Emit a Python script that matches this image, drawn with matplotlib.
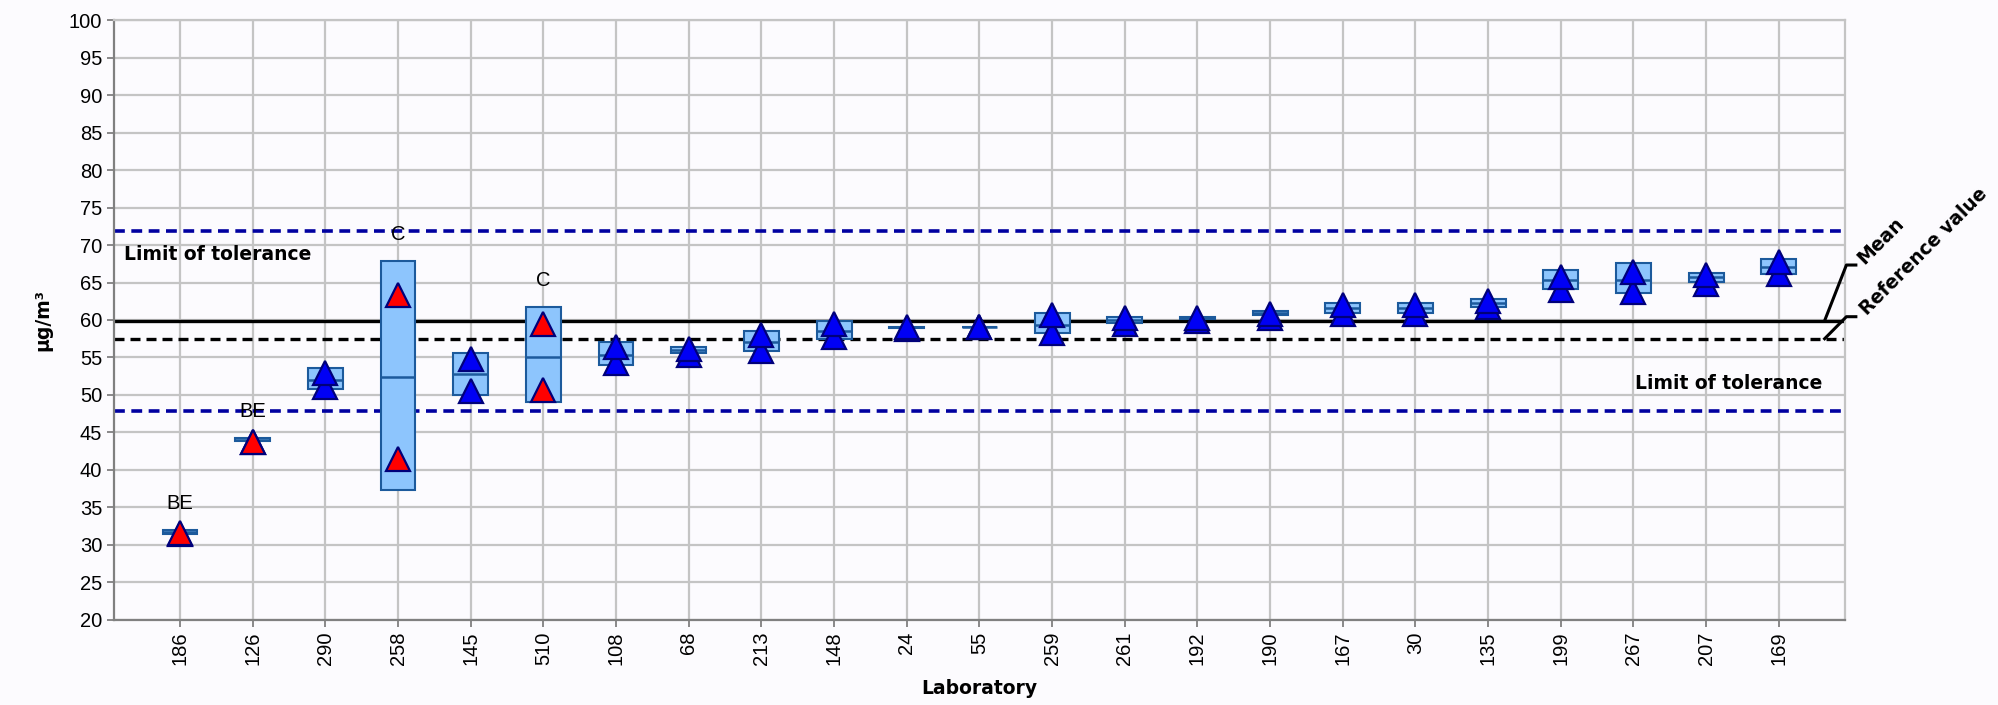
import numpy as np
import matplotlib.pyplot as plt

# laboratory codes, sorted by mean result
labs = ['186', '126', '290', '258', '145', '510', '108', '68', '213', '148', '24', '55',
        '259', '261', '192', '190', '167', '30', '135', '199', '267', '207', '169']
# two single results per lab (upper / lower)
result_hi = [31.6, 43.7, 52.9, 63.3, 54.8, 59.5, 56.4, 56.1, 57.95, 59.5, 59.05, 59.1,
             60.6, 60.3, 60.3, 60.85, 61.95, 61.95, 62.5, 65.7, 66.4, 65.95, 67.8]
result_lo = [31.5, 43.7, 51.0, 41.5, 50.5, 50.6, 54.25, 55.3, 55.85, 57.7, 58.8, 59.0,
             58.2, 59.5, 59.8, 60.3, 60.8, 60.85, 61.7, 64.0, 63.75, 64.8, 66.15]
# uncertainty boxes and lab mean
box_low = [31.4, 43.8, 50.8, 37.3, 50.0, 49.0, 53.95, 55.55, 55.85, 57.4, 58.98, 59.03,
           58.2, 59.55, 60.1, 60.65, 60.9, 60.9, 61.8, 64.2, 63.55, 65.1, 66.2]
box_high = [32.0, 44.25, 53.55, 67.85, 55.65, 61.8, 57.0, 56.45, 58.55, 59.85, 59.06, 59.11,
            61.0, 60.45, 60.35, 61.2, 62.3, 62.3, 62.8, 66.7, 67.65, 66.3, 68.1]
lab_mean = [31.7, 44.0, 51.95, 52.4, 52.75, 55.1, 55.3, 56.0, 57.0, 58.55, 59.02, 59.07,
            59.3, 60.0, 60.2, 60.9, 61.55, 61.55, 62.25, 65.4, 65.35, 65.7, 67.1]
flags = {'186': 'BE', '126': 'BE', '258': 'C', '510': 'C'}

mean_value = 59.9
reference_value = 57.5
tol_upper = 71.9
tol_lower = 47.9

bg = '#fcfbfe'
bold = dict(fontsize=13.5, fontweight='bold', family='DejaVu Sans')

fig = plt.figure(figsize=(19.98, 7.05), dpi=100, facecolor=bg)
ax = fig.add_axes([0.057, 0.1206, 0.8664, 0.851], facecolor=bg)

x = np.arange(len(labs))
ax.set_xlim(-0.91, len(labs) - 1 + 0.91)
ax.set_ylim(20, 100)
ax.set_yticks(np.arange(20, 101, 5))
ax.set_xticks(x)
ax.set_xticklabels(labs, rotation=90)
ax.grid(True, color='#c4c4c4', lw=1.6, zorder=0)
ax.set_axisbelow(True)

# limits, mean and reference
dash = (0, (3, 1.8))
ax.axhline(tol_upper, color='#0000a0', lw=2.6, ls=dash, zorder=2)
ax.axhline(tol_lower, color='#0000a0', lw=2.6, ls=dash, zorder=2)
ax.axhline(mean_value, color='black', lw=2.4, zorder=2)
ax.axhline(reference_value, color='black', lw=2.4, ls=dash, zorder=2)

# boxes
low = np.array(box_low)
high = np.array(box_high)
ax.bar(x, high - low, bottom=low, width=0.48, color='#8dc5fd',
       edgecolor='#1c5a9c', linewidth=1.5, zorder=3)
ax.hlines(lab_mean, x - 0.24, x + 0.24, color='#1c5a9c', lw=1.8, zorder=4)

# single results
for i, lab in enumerate(labs):
    fc = 'red' if lab in flags else '#0000f5'
    for v in (result_lo[i], result_hi[i]):
        ax.plot(i, v, marker='^', ms=17, mfc=fc, mec='#00007a', mew=1.6,
                ls='none', zorder=5)
    if lab in flags:
        ax.annotate(flags[lab], (i, box_high[i]), xytext=(0, 15), textcoords='offset points',
                    ha='center', va='baseline', fontsize=14.5, family='Liberation Sans', zorder=6)

ax.text(-0.77, 68.8, 'Limit of tolerance', va='center', ha='left', **bold)
ax.text(22.6, 51.5, 'Limit of tolerance', va='center', ha='right', **bold)

# leader lines for mean / reference value
ax.plot([22.63, 22.93, 23.06], [mean_value, 67.33, 67.33], color='black', lw=2.2,
        clip_on=False, zorder=6)
ax.plot([22.63, 22.93, 23.06], [reference_value, 60.44, 60.44], color='black', lw=2.2,
        clip_on=False, zorder=6)
ax.text(23.12, 67.87, 'Mean', rotation=45, rotation_mode='anchor', ha='left', va='center', **bold)
ax.text(23.16, 61.0, 'Reference value', rotation=45, rotation_mode='anchor', ha='left',
        va='center', **bold)

for s in ['left', 'bottom']:
    ax.spines[s].set_color('#808080')
    ax.spines[s].set_linewidth(1.6)
for s in ['top', 'right']:
    ax.spines[s].set_color('#c4c4c4')
    ax.spines[s].set_linewidth(1.6)
ax.tick_params(axis='both', colors='#808080', width=1.3, length=5, labelsize=14.5,
               labelcolor='black')
for lbl in ax.get_xticklabels() + ax.get_yticklabels():
    lbl.set_family('Liberation Sans')

ax.set_xlabel('Laboratory', labelpad=10, **bold)
ax.set_ylabel('µg/m³', labelpad=12, **bold)

fig.savefig('out.png', dpi=100, facecolor=bg)
